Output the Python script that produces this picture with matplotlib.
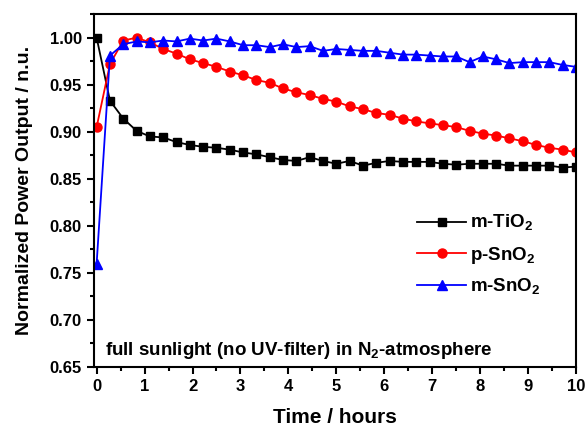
import matplotlib
matplotlib.use("Agg")
import matplotlib.pyplot as plt
from matplotlib.ticker import MultipleLocator, FormatStrFormatter

plt.rcParams['font.family'] = ['Liberation Sans', 'DejaVu Sans']
plt.rcParams['font.weight'] = 'bold'

time_h = [0.000, 0.278, 0.556, 0.833, 1.111, 1.389, 1.667, 1.944, 2.222, 2.500,
          2.778, 3.056, 3.333, 3.611, 3.889, 4.167, 4.444, 4.722, 5.000, 5.278,
          5.556, 5.833, 6.111, 6.389, 6.667, 6.944, 7.222, 7.500, 7.778, 8.056,
          8.333, 8.611, 8.889, 9.167, 9.444, 9.722, 10.000]

m_tio2 = [1.000, 0.933, 0.914, 0.901, 0.895, 0.894, 0.889, 0.886, 0.884, 0.883,
          0.881, 0.878, 0.876, 0.873, 0.870, 0.869, 0.873, 0.869, 0.866, 0.869,
          0.864, 0.867, 0.869, 0.868, 0.868, 0.868, 0.866, 0.865, 0.866, 0.866,
          0.866, 0.864, 0.864, 0.864, 0.864, 0.862, 0.863]

p_sno2 = [0.905, 0.972, 0.997, 1.000, 0.995, 0.988, 0.983, 0.977, 0.973, 0.969,
          0.964, 0.960, 0.955, 0.952, 0.946, 0.942, 0.939, 0.935, 0.932, 0.927,
          0.924, 0.920, 0.918, 0.914, 0.911, 0.909, 0.907, 0.905, 0.901, 0.898,
          0.896, 0.893, 0.890, 0.886, 0.883, 0.881, 0.878]

m_sno2 = [0.760, 0.981, 0.993, 0.996, 0.995, 0.997, 0.996, 0.999, 0.997, 0.999,
          0.996, 0.992, 0.992, 0.990, 0.993, 0.990, 0.991, 0.986, 0.988, 0.987,
          0.986, 0.986, 0.984, 0.982, 0.982, 0.981, 0.980, 0.980, 0.974, 0.980,
          0.977, 0.973, 0.974, 0.974, 0.974, 0.971, 0.969]

labels = [r'm-TiO$_\mathregular{2}$', r'p-SnO$_\mathregular{2}$', r'm-SnO$_\mathregular{2}$']
annotation = r'full sunlight (no UV-filter) in N$_\mathregular{2}$-atmosphere'

fig = plt.figure(figsize=(5.86, 4.29), dpi=100)
ax = fig.add_axes([0.160, 0.1445, 0.823, 0.8225])

ax.plot(time_h, m_tio2, color='black', marker='s', markersize=6, linewidth=1.3, label=labels[0])
ax.plot(time_h, p_sno2, color='red', marker='o', markersize=6.5, linewidth=1.3, label=labels[1])
ax.plot(time_h, m_sno2, color='blue', marker='^', markersize=7, linewidth=1.3, label=labels[2])

ax.set_xlim(-0.06, 10)
ax.set_ylim(0.65, 1.025)
ax.xaxis.set_major_locator(MultipleLocator(1))
ax.xaxis.set_minor_locator(MultipleLocator(0.5))
ax.yaxis.set_major_locator(MultipleLocator(0.05))
ax.yaxis.set_minor_locator(MultipleLocator(0.025))
ax.yaxis.set_major_formatter(FormatStrFormatter('%.2f'))

for s in ax.spines.values():
    s.set_linewidth(1.5)
ax.tick_params(which='major', direction='out', length=5, width=1.5, labelsize=12)
ax.tick_params(which='minor', direction='out', length=3, width=1.5)
ax.tick_params(top=False, right=False, which='both')
for lab in ax.get_xticklabels() + ax.get_yticklabels():
    lab.set_fontweight('bold')

ax.set_xlabel('Time / hours', fontsize=15, fontweight='bold', labelpad=10)
ax.set_ylabel('Normalized Power Output / n.u.', fontsize=14, fontweight='bold', labelpad=12)

ax.text(0.023, 0.034, annotation, transform=ax.transAxes, fontsize=13.5, fontweight='bold',
        ha='left', va='baseline')

leg = ax.legend(loc='center left', bbox_to_anchor=(0.636, 0.317), frameon=False,
                fontsize=13.5, handlelength=2.6, labelspacing=0.6, handletextpad=0.2)
for t in leg.get_texts():
    t.set_fontweight('bold')

fig.savefig('out.png', dpi=100)
